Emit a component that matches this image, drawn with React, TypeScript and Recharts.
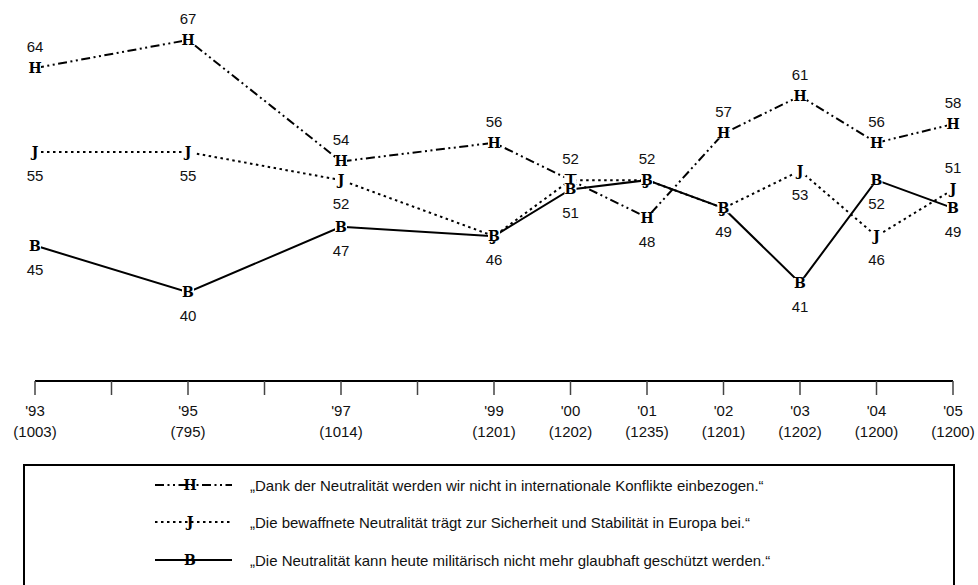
import React from "react";
import { LineChart, Line, XAxis, YAxis, LabelList } from "recharts";

const years = [1993, 1995, 1997, 1999, 2000, 2001, 2002, 2003, 2004, 2005];
const yearLabels = ["'93", "'95", "'97", "'99", "'00", "'01", "'02", "'03", "'04", "'05"];
const sampleSizes = ["(1003)", "(795)", "(1014)", "(1201)", "(1202)", "(1235)", "(1201)", "(1202)", "(1200)", "(1200)"];
const allTicks = [1993, 1994, 1995, 1996, 1997, 1998, 1999, 2000, 2001, 2002, 2003, 2004, 2005];

const konflikte = [64, 67, 54, 56, 52, 48, 57, 61, 56, 58];
const sicherheit = [55, 55, 52, 46, 52, 52, 49, 53, 46, 51];
const glaubhaft = [45, 40, 47, 46, 51, 52, 49, 41, 52, 49];

const konflikteLabelPos = ["top", "top", "top", "top", "top", "bottom", "top", "top", "top", "top"];
const sicherheitLabelPos = ["bottom", "bottom", "bottom", "none", "none", "top", "bottom", "bottom", "bottom", "top"];
const glaubhaftLabelPos = ["bottom", "bottom", "bottom", "bottom", "bottom", "none", "none", "bottom", "bottom", "bottom"];

const seriesNames = [
  "„Dank der Neutralität werden wir nicht in internationale Konflikte einbezogen.“",
  "„Die bewaffnete Neutralität trägt zur Sicherheit und Stabilität in Europa bei.“",
  "„Die Neutralität kann heute militärisch nicht mehr glaubhaft geschützt werden.“",
];
const markerLetters = ["H", "J", "B"];

const data = years.map((y, i) => ({
  year: y,
  konflikte: konflikte[i],
  sicherheit: sicherheit[i],
  glaubhaft: glaubhaft[i],
}));

const dashes = ["9 3.5 2 3.5 2 3.5", "2.5 3.5", undefined];
const keys = ["konflikte", "sicherheit", "glaubhaft"];
const labelPositions = [konflikteLabelPos, sicherheitLabelPos, glaubhaftLabelPos];

const FONT = "'Liberation Sans', Arial, sans-serif";
const MARKER_FONT = "'DejaVu Serif', 'Liberation Serif', serif";

const makeDot = (letter: string) => (props: any) => {
  const { cx, cy, index } = props;
  if (cx == null || cy == null) return <g key={index} />;
  return (
    <g key={index}>
      <rect x={cx - 6} y={cy - 5} width={12} height={10} fill="#fff" />
      <text
        x={cx}
        y={cy + 5}
        textAnchor="middle"
        fontFamily={MARKER_FONT}
        fontWeight="bold"
        fontSize={14}
        fill="#000"
      >
        {letter}
      </text>
    </g>
  );
};

const makeLabel = (positions: string[]) => (props: any) => {
  const { x, y, value, index } = props;
  const pos = positions[index];
  if (pos === "none") return null;
  const yy = pos === "top" ? y - 21 + 5 : y + 24 + 5;
  return (
    <text key={index} x={x} y={yy} textAnchor="middle" fontFamily={FONT} fontSize={15} fill="#111">
      {value}
    </text>
  );
};

const YearTick = (props: any) => {
  const { x, y, payload } = props;
  const i = years.indexOf(payload.value);
  if (i < 0) return <g />;
  return (
    <g>
      <text x={x} y={y + 21} textAnchor="middle" fontFamily={FONT} fontSize={15} fill="#111">
        {yearLabels[i]}
      </text>
      <text x={x} y={y + 42} textAnchor="middle" fontFamily={FONT} fontSize={15} fill="#111">
        {sampleSizes[i]}
      </text>
    </g>
  );
};

const LegendSample = ({ idx }: { idx: number }) => (
  <svg width={80} height={20} style={{ display: "block" }}>
    <line x1={2} y1={10} x2={79} y2={10} stroke="#000" strokeWidth={2} strokeDasharray={dashes[idx]} />
    <text x={37} y={15} textAnchor="middle" fontFamily={MARKER_FONT} fontWeight="bold" fontSize={14} fill="#000">
      {markerLetters[idx]}
    </text>
  </svg>
);

export default function App() {
  const rowTops = [475, 512, 550];
  return (
    <div style={{ position: "absolute", left: 0, top: 0, width: 978, height: 585, overflow: "hidden", background: "#fff" }}>
      <LineChart width={978} height={585} data={data} margin={{ top: 7.3, right: 25, bottom: 144, left: 35 }}>
        <XAxis
          dataKey="year"
          type="number"
          domain={[1993, 2005]}
          ticks={allTicks}
          interval={0}
          height={60}
          tickSize={14}
          tickMargin={0}
          axisLine={{ stroke: "#000", strokeWidth: 2 }}
          tickLine={{ stroke: "#444", strokeWidth: 1.5 }}
          tick={<YearTick />}
        />
        <YAxis hide domain={[30.5, 70.5]} type="number" />
        {keys.map((k, idx) => (
          <Line
            key={k}
            dataKey={k}
            type="linear"
            stroke="#000"
            strokeWidth={2}
            strokeDasharray={dashes[idx]}
            dot={makeDot(markerLetters[idx])}
            activeDot={false}
            isAnimationActive={false}
          >
            <LabelList dataKey={k} content={makeLabel(labelPositions[idx])} />
          </Line>
        ))}
      </LineChart>
      <div
        style={{
          position: "absolute",
          left: 23,
          top: 464,
          width: 928,
          height: 125,
          borderTop: "2px solid #000",
          borderLeft: "2px solid #000",
          borderRight: "2px solid #000",
        }}
      />
      {seriesNames.map((name, idx) => (
        <div
          key={name}
          style={{ position: "absolute", left: 153, top: rowTops[idx], display: "flex", alignItems: "center", height: 20 }}
        >
          <LegendSample idx={idx} />
          <span style={{ marginLeft: 17, fontFamily: FONT, fontSize: 15, color: "#111", whiteSpace: "nowrap" }}>{name}</span>
        </div>
      ))}
    </div>
  );
}
